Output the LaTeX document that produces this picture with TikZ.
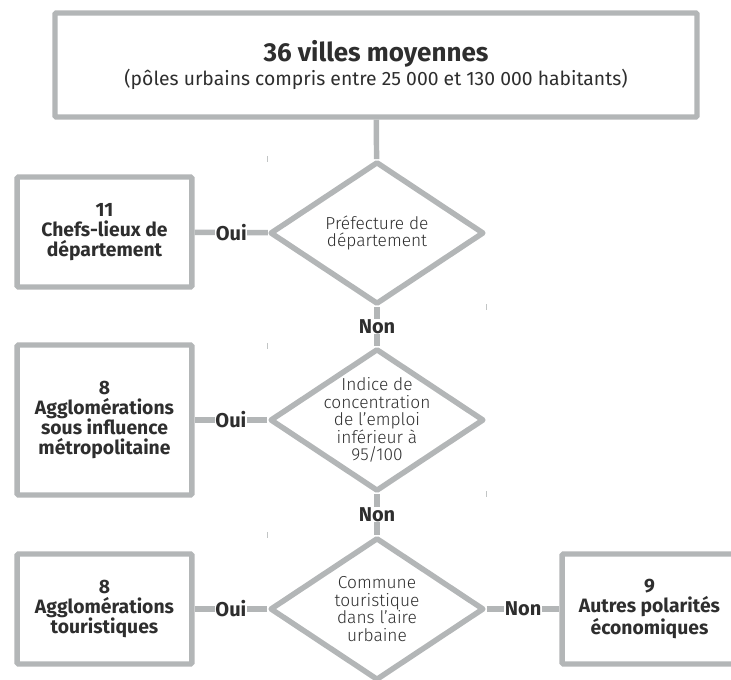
\documentclass[tikz,border=0pt]{standalone}
\usepackage{fontspec}
\setmainfont{Fira Sans}
\newfontfamily\fin{Fira Sans Light}
\usepackage{xcolor}
\usetikzlibrary{
  positioning,
  shapes.geometric
}
\definecolor{trait}{HTML}{B3B6B7}
\definecolor{encre}{HTML}{2E2E2E}

\tikzset{
  boite/.style={draw=trait, line width=4.1pt, rounded corners=1pt, fill=white,
    align=center, text=encre, font=\fontsize{14.5}{15}\selectfont\bfseries,
    minimum width=131pt, minimum height=82.5pt, inner sep=0pt},
  test/.style={draw=trait, line width=4.1pt, line join=round, diamond,
    minimum width=160.5pt, minimum height=107pt, inner sep=0pt},
  dtexte/.style={align=center, text=encre, font=\fontsize{13}{13.1}\selectfont\fin},
  lien/.style={draw=trait, line width=4.1pt},
  rep/.style={fill=white, text=encre, font=\fontsize{15}{15}\selectfont\bfseries, inner sep=0.5pt},
  repere/.style={draw=trait!80, line width=0.6pt}
}

\begin{document}
\begin{tikzpicture}[x=0.75pt, y=-0.75pt]
      \useasboundingbox (0,0) rectangle (731,680);
      \clip (0,0) rectangle (731,680);

      % Top box
      \node[boite, minimum width=481.5pt, minimum height=78pt, font=\fontsize{14.5}{15.5}\selectfont]
        (villes) at (376,65)
        {{\fontsize{19.5}{15.5}\selectfont\bfseries 36 villes moyennes}\\(pôles urbains compris entre 25 000 et 130 000 habitants)};

      % Tests
      \node[test, label={[dtexte]center:Préfecture de\\département}] (prefecture) at (377,233) {};
      \node[test, label={[dtexte]center:Indice de\\concentration\\de l’emploi\\inférieur à\\95/100}] (indice) at (377,420) {};
      \node[test, label={[dtexte]center:Commune\\touristique\\dans l’aire\\urbaine}] (commune) at (377,609) {};

      % Results
      \node[boite] (chefs) at (104.5,232) {11\\Chefs-lieux de\\département};
      \node[boite, minimum height=112.5pt] (metro) at (104.5,420) {8\\Agglomérations\\sous influence\\métropolitaine};
      \node[boite] (touri) at (104.5,609) {8\\Agglomérations\\touristiques};
      \node[boite] (autres) at (649.5,609) {9\\Autres polarités\\économiques};

      % Links
      \draw[lien] (villes) -- (prefecture);
      \draw[lien] (prefecture) -- node[rep] {Non} (indice);
      \draw[lien] (indice) -- node[rep] {Non} (commune);
      \draw[lien] (prefecture) -- node[rep] {Oui} (chefs);
      \draw[lien] (indice) -- node[rep] {Oui} (metro);
      \draw[lien] (commune) -- node[rep] {Oui} (touri);
      \draw[lien] (commune) -- node[rep] {Non} (autres);

      % Small marks at the corners of the tests
      \foreach \q in {prefecture,indice,commune} {
        \draw[repere] (\q.west |- \q.north) ++(0,-3) -- ++(0,6);
        \draw[repere] (\q.east |- \q.south) ++(0,-3) -- ++(0,6);
      }
    \end{tikzpicture}
\end{document}
